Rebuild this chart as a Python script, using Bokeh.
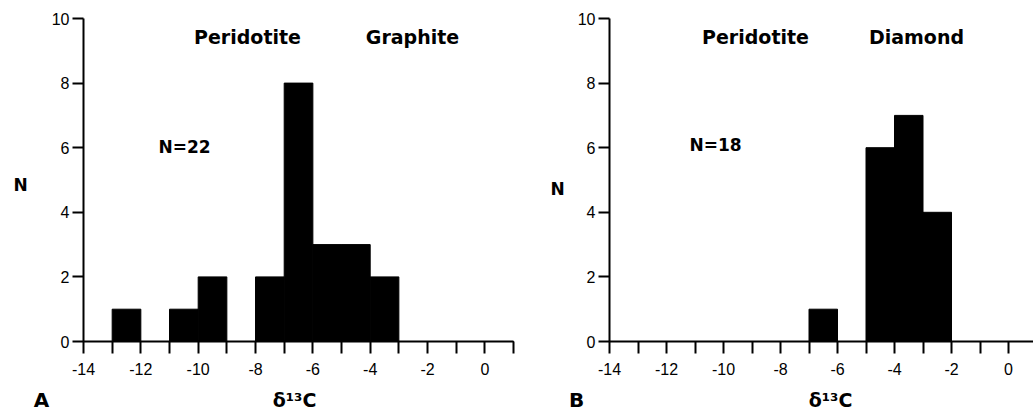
from bokeh.plotting import figure
from bokeh.layouts import row
from bokeh.models import FixedTicker, Label, Range1d, ColumnDataSource
from bokeh.embed import file_html
from bokeh.resources import INLINE

# ---- data ----
bin_left = [-14, -13, -12, -11, -10, -9, -8, -7, -6, -5, -4, -3, -2, -1, 0]
counts_graphite = [0, 1, 0, 1, 2, 0, 2, 8, 3, 3, 2, 0, 0, 0, 0]
counts_diamond = [0, 0, 0, 0, 0, 0, 0, 1, 0, 6, 7, 4, 0, 0, 0]
x_ticks_a = [-14, -13, -12, -11, -10, -9, -8, -7, -6, -5, -4, -3, -2, -1, 0, 1]
x_ticks_b = [-14, -13, -12, -11, -10, -9, -8, -7, -6, -5, -4, -3, -2, -1, 0]
y_ticks = [0, 2, 4, 6, 8, 10]
title_words_a = ["Peridotite", "Graphite"]
title_words_b = ["Peridotite", "Diamond"]
n_text_a = "N=22"
n_text_b = "N=18"
x_label = "δ¹³C"
y_label = "N"

FONT = "Liberation Sans"
BOLD_FONT = "DejaVu Sans"
H = 413


def panel(counts, xticks, width, axis_px, px_per_unit, x_axis_end,
          words, word_px, n_text, n_px, letter, letter_px, ylab_px, xlab_px):
    # y mapping: y=0 at pixel 341, y=10 at pixel 18
    y0_px, y10_px = 341, 18
    ppu_y = (y0_px - y10_px) / 10.0
    x_left = -14 - axis_px / px_per_unit
    x_right = -14 + (width - axis_px) / px_per_unit
    y_top = y0_px / ppu_y
    y_bot = -(H - y0_px) / ppu_y

    def dx(px):
        return -14 + (px - axis_px) / px_per_unit

    def dy(py):
        return (y0_px - py) / ppu_y

    p = figure(width=width, height=H, x_range=Range1d(x_left, x_right),
               y_range=Range1d(y_bot, y_top), output_backend="svg",
               toolbar_location=None, min_border=0, title=None)
    p.outline_line_color = None
    p.grid.visible = False
    p.background_fill_color = "white"
    p.border_fill_color = "white"

    src = ColumnDataSource(dict(left=bin_left,
                                right=[b + 1 for b in bin_left],
                                top=counts,
                                bottom=[0] * len(counts)))
    p.quad(left="left", right="right", top="top", bottom="bottom",
           source=src, fill_color="black", line_color="black", line_width=1)

    xa = p.xaxis[0]
    xa.fixed_location = 0
    xa.bounds = (-14, x_axis_end)
    xa.ticker = FixedTicker(ticks=xticks)
    xa.major_label_overrides = {t: (str(t) if t % 2 == 0 else "") for t in xticks}
    xa.minor_tick_line_color = None
    xa.major_tick_in = 0
    xa.major_tick_out = 12
    xa.major_tick_line_width = 2
    xa.axis_line_width = 2
    xa.axis_line_color = "black"
    xa.major_tick_line_color = "black"
    xa.major_label_standoff = 9
    xa.major_label_text_font = FONT
    xa.major_label_text_font_size = "16px"
    xa.major_label_text_color = "black"

    ya = p.yaxis[0]
    ya.fixed_location = -14
    ya.bounds = (0, 10)
    ya.ticker = FixedTicker(ticks=y_ticks)
    ya.minor_tick_line_color = None
    ya.major_tick_in = 0
    ya.major_tick_out = 11
    ya.major_tick_line_width = 2
    ya.axis_line_width = 2
    ya.axis_line_color = "black"
    ya.major_tick_line_color = "black"
    ya.major_label_standoff = 3
    ya.major_label_text_font = FONT
    ya.major_label_text_font_size = "16px"
    ya.major_label_text_color = "black"

    def add_text(px, py, text, size):
        p.add_layout(Label(x=dx(px), y=dy(py), text=text, text_font=BOLD_FONT,
                           text_font_size=size, text_font_style="bold",
                           text_color="black",
                           text_align="center", text_baseline="middle"))

    for w, wx in zip(words, word_px):
        add_text(wx, 36, w, "19px")
    add_text(n_px[0], n_px[1], n_text, "17px")
    add_text(ylab_px[0], ylab_px[1], y_label, "17px")
    add_text(xlab_px, 399, x_label, "19px")
    add_text(letter_px, 399, letter, "20px")
    return p


pa = panel(counts_graphite, x_ticks_a, 520, 83, 28.67, 1,
           title_words_a, [247, 412], n_text_a, (184, 146),
           "A", 41, (20, 184), 294)
pb = panel(counts_diamond, x_ticks_b, 513, 89, 28.5, 0.877,
           title_words_b, [235, 396], n_text_b, (195, 144),
           "B", 56, (37, 188), 310)

layout = row(pa, pb)
open("out.html", "w").write(file_html(layout, INLINE))
